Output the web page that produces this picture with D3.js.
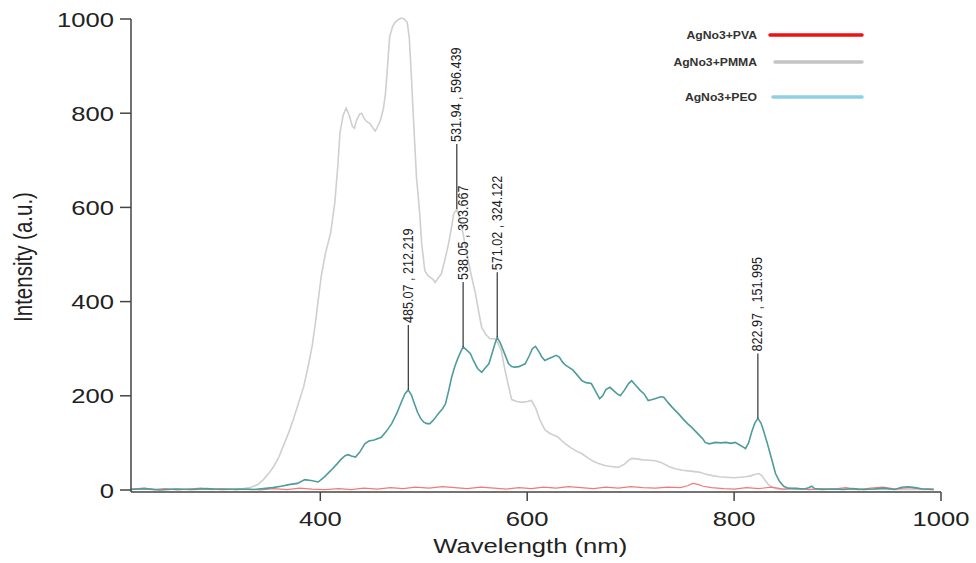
<!DOCTYPE html>
<html>
<head>
<meta charset="utf-8">
<script src="https://cdn.jsdelivr.net/npm/d3@7"></script>
<style>
  body { margin: 0; background: #fff; }
  text { font-family: "Liberation Sans", Arial, sans-serif; }
</style>
</head>
<body>
<svg id="chart" width="976" height="563"></svg>
<script>
// PMMA (gray)
const pmmaWl = [217,240,260,280,300,320,332,340,345,350,355,360,364,370,374,379,384,388,392,395,398,401,405,410,414,417,419,422,425,428,431,433,435,438,440,442,445,448,451,453,455,458,461,463,465,467,470,472,475,478,481,484,486,488,490,493,496,498,501,504,506,509,511,514,517,520,524,527,529,532,535,538,541,545,550,553,556,560,564,569,572,575,578,582,585,590,595,600,604,608,612,617,622,627,630,634,637,642,648,653,660,665,669,675,681,688,694,698,701,706,712,718,724,730,737,743,750,758,766,772,780,786,792,800,806,811,816,820,824,827,830,833,836,840,845,860,880,900,920,940,960,993];
const pmmaI = [2,1,2,1,2,1,5,12,22,35,50,70,92,125,150,185,220,260,304,350,404,455,503,546,610,690,758,795,811,795,772,768,785,798,800,790,782,778,768,762,770,784,810,842,900,962,985,992,998,1002,1000,993,960,880,790,663,590,523,466,455,452,447,441,450,459,485,523,560,587,596,575,545,508,465,417,380,345,330,321,321,310,296,260,220,192,188,186,188,190,175,150,128,120,115,112,103,98,90,82,77,66,60,56,52,50,48,55,63,67,66,64,63,62,58,50,45,42,40,38,34,30,28,27,26,27,28,30,33,35,30,20,12,7,3,1,2,1,2,1,2,1,1];

// PEO (teal)
const peoWl = [217,230,245,260,275,290,305,320,335,345,354,362,371,378,385,391,398,404,410,416,420,424,427,430,434,438,443,447,452,459,464,469,474,479,482,485,488,491,494,497,500,503,506,510,514,518,521,524,527,530,533,536,538,541,545,548,552,556,559,563,566,569,571,574,578,582,585,588,592,595,598,602,605,608,611,614,617,620,624,628,631,634,637,640,644,648,653,657,662,666,670,673,676,680,684,687,690,694,698,701,705,709,713,717,721,725,729,732,736,740,743,747,751,755,759,763,767,770,772,776,782,787,792,797,801,805,808,811,814,817,820,823,826,829,832,834,837,840,844,848,852,860,868,872,875,878,885,895,905,915,925,935,945,955,962,968,975,982,993];
const peoI = [1,3,0,2,1,3,1,2,1,3,5,8,12,14,22,20,17,28,41,55,65,73,75,72,70,80,98,104,106,112,125,141,163,190,205,212,202,183,165,152,144,141,141,150,162,172,183,210,240,262,280,295,304,298,290,275,258,250,258,268,290,312,324,312,290,268,262,261,262,265,268,285,300,305,295,283,275,278,282,286,282,272,265,261,255,245,232,228,226,210,194,200,213,218,210,204,200,212,226,232,222,212,204,190,192,195,198,197,186,176,169,160,150,141,133,124,115,108,101,98,101,100,101,99,101,96,92,88,100,123,142,152,142,122,100,84,60,35,18,8,4,3,2,5,8,3,1,2,1,3,1,2,4,1,6,7,5,2,1];

// PVA (red)
const pvaWl = [217,230,240,250,262,272,285,295,305,318,330,342,355,368,380,392,404,418,430,442,455,468,480,492,505,518,530,542,555,568,580,592,604,616,628,640,652,664,676,688,700,712,724,736,748,755,760,765,770,778,790,800,812,824,836,848,860,872,884,896,908,920,932,944,956,968,980,993];
const pvaI = [2,4,1,3,0,2,4,1,3,1,2,0,3,1,4,2,1,3,1,4,2,5,3,6,4,7,5,3,6,4,2,5,3,6,4,7,5,3,6,4,7,5,4,6,5,9,14,12,8,5,3,2,5,3,6,2,4,1,3,2,5,1,4,6,2,5,3,2];

// peak markers
const peakWl = [485.07, 531.94, 538.05, 571.02, 822.97];
const peakI = [212.219, 596.439, 303.667, 324.122, 151.995];
const peakLabels = ['485.07 , 212.219', '531.94 , 596.439', '538.05 , 303.667', '571.02 , 324.122', '822.97 , 151.995'];

const xTicks = [400, 600, 800, 1000];
const yTicks = [0, 200, 400, 600, 800, 1000];

const legendNames = ['AgNo3+PVA', 'AgNo3+PMMA', 'AgNo3+PEO'];
const legendColors = ['#ee1111', '#c4c4c4', '#8fd0e8'];

const svg = d3.select('#chart');
const stretch = 1.22; // the source image is widened horizontally

const x = d3.scaleLinear().domain([217, 1000]).range([131, 941]);
const y = d3.scaleLinear().domain([0, 1000]).range([490, 19]);

const line = d3.line().x(d => x(d[0])).y(d => y(d[1]));

function pairs(a, b) {
  return a.map((v, i) => [v, b[i]]);
}

svg.append('path').datum(pairs(pmmaWl, pmmaI))
  .attr('d', line).attr('fill', 'none')
  .attr('stroke', '#cfcfcf').attr('stroke-width', 1.6);

svg.append('path').datum(pairs(pvaWl, pvaI))
  .attr('d', line).attr('fill', 'none')
  .attr('stroke', '#f07a7a').attr('stroke-width', 1.2);

svg.append('path').datum(pairs(peoWl, peoI))
  .attr('d', line).attr('fill', 'none')
  .attr('stroke', '#4e9c9c').attr('stroke-width', 1.6);

// axes
const axisColor = '#444';
svg.append('line')
  .attr('x1', x(217)).attr('x2', x(217))
  .attr('y1', y(1000)).attr('y2', y(0) + 2)
  .attr('stroke', axisColor).attr('stroke-width', 1.5);
svg.append('line')
  .attr('x1', x(217)).attr('x2', x(1000))
  .attr('y1', y(0) + 2).attr('y2', y(0) + 2)
  .attr('stroke', axisColor).attr('stroke-width', 1.5);

yTicks.forEach(t => {
  svg.append('line')
    .attr('x1', x(217) - 11).attr('x2', x(217))
    .attr('y1', y(t)).attr('y2', y(t))
    .attr('stroke', axisColor).attr('stroke-width', 1.5);
  svg.append('g')
    .attr('transform', 'translate(' + (x(217) - 17) + ',' + (y(t) + 7.5) + ') scale(' + stretch + ',1)')
    .append('text')
    .attr('text-anchor', 'end')
    .attr('font-size', 21)
    .attr('fill', '#222')
    .text(t);
});

xTicks.forEach(t => {
  svg.append('line')
    .attr('x1', x(t)).attr('x2', x(t))
    .attr('y1', y(0) + 2).attr('y2', y(0) + 11)
    .attr('stroke', axisColor).attr('stroke-width', 1.5);
  svg.append('g')
    .attr('transform', 'translate(' + x(t) + ',' + (y(0) + 36) + ') scale(' + stretch + ',1)')
    .append('text')
    .attr('text-anchor', 'middle')
    .attr('font-size', 21)
    .attr('fill', '#222')
    .text(t);
});

svg.append('g')
  .attr('transform', 'translate(' + (x(600) + 3) + ',' + 553 + ') scale(' + stretch + ',1)')
  .append('text')
  .attr('text-anchor', 'middle')
  .attr('font-size', 21)
  .attr('fill', '#222')
  .text('Wavelength (nm)');

svg.append('g')
  .attr('transform', 'translate(32,257) scale(' + stretch + ',1) rotate(-90)')
  .append('text')
  .attr('text-anchor', 'middle')
  .attr('font-size', 20.5)
  .attr('fill', '#222')
  .text('Intensity (a.u.)');

// peak leaders and labels
peakWl.forEach((w, i) => {
  const px = x(w), py = y(peakI[i]);
  svg.append('line')
    .attr('x1', px).attr('x2', px)
    .attr('y1', py).attr('y2', py - 65)
    .attr('stroke', '#333').attr('stroke-width', 1.2);
  svg.append('g')
    .attr('transform', 'translate(' + (px + 4.5) + ',' + (py - 67) + ') scale(' + stretch + ',1) rotate(-90)')
    .append('text')
    .attr('font-size', 12.6)
    .attr('fill', '#222')
    .text(peakLabels[i]);
});

// legend
const legY = [35, 62, 97];
const legX1 = [770, 775, 773];
legendNames.forEach((n, i) => {
  svg.append('line')
    .attr('x1', legX1[i]).attr('x2', 862)
    .attr('y1', legY[i]).attr('y2', legY[i])
    .attr('stroke', legendColors[i]).attr('stroke-width', 3.5)
    .attr('stroke-linecap', 'round');
  svg.append('g')
    .attr('transform', 'translate(757,' + (legY[i] + 3.5) + ') scale(' + stretch + ',1)')
    .append('text')
    .attr('text-anchor', 'end')
    .attr('font-size', 10)
    .attr('font-weight', 'bold')
    .attr('fill', '#333')
    .text(n);
});
</script>
</body>
</html>
